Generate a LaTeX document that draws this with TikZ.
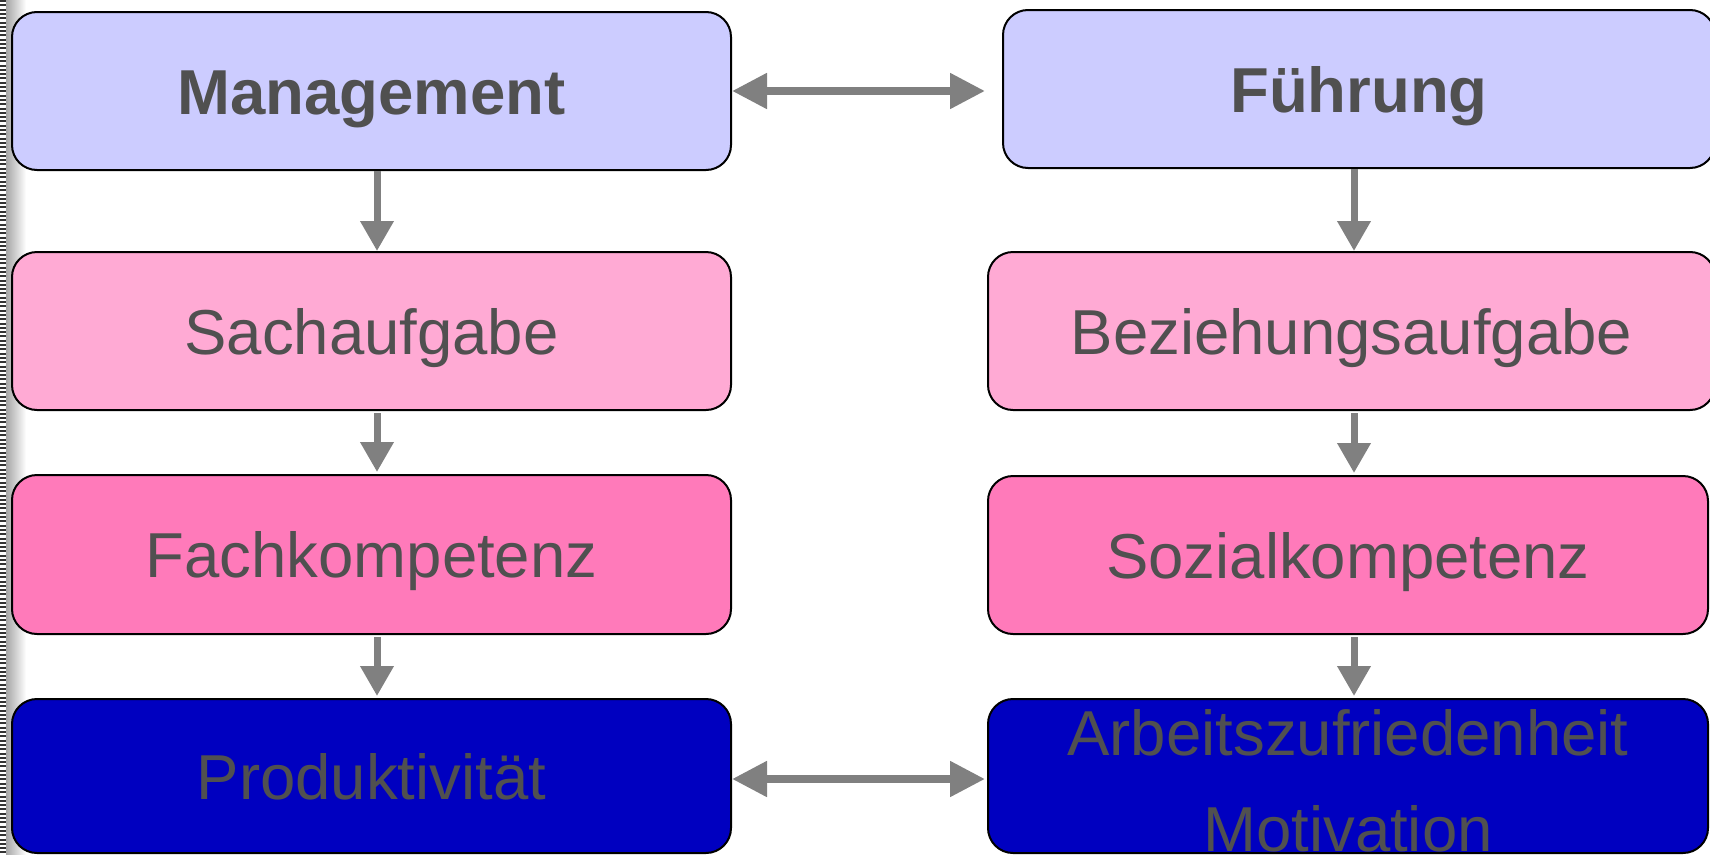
\documentclass[tikz,border=0pt]{standalone}
\usepackage{fontspec}
\setmainfont{Liberation Sans}
\usetikzlibrary{arrows.meta,calc}
\definecolor{boxA}{RGB}{204,204,255}
\definecolor{boxB}{RGB}{255,170,212}
\definecolor{boxC}{RGB}{255,122,186}
\definecolor{boxD}{RGB}{0,0,192}
\definecolor{txtgray}{RGB}{80,80,80}
\definecolor{arrgray}{RGB}{128,128,128}
\begin{document}
\begin{tikzpicture}[x=1pt,y=-1pt,
  box/.style={draw=black, line width=2pt, rounded corners=25pt, anchor=north west,
    inner sep=0pt, text=txtgray, font=\fontsize{63.5}{76}\selectfont,
    text height=46pt, text depth=0pt},
  conn/.style={draw=arrgray, line width=7pt, -{Triangle[length=30pt,width=32pt]}},
  dconn/.style={draw=arrgray, line width=8pt,
    {Triangle[length=35pt,width=34pt]}-{Triangle[length=35pt,width=34pt]}}]
\useasboundingbox (0,0) rectangle (1710,854);
% left binding strip
\shade[left color=black!35, right color=white] (6,0) rectangle (26,854);
\draw[black!80, line width=6pt, dash pattern=on 2pt off 2.3pt] (3,0) -- (3,854);
% boxes
\node[box, fill=boxA, minimum width=719pt, minimum height=158pt] (mgmt) at (11,11) {\bfseries Management};
\node[box, fill=boxA, minimum width=712pt, minimum height=158pt] (fuhr) at (1002,9) {\bfseries Führung};
\node[box, fill=boxB, minimum width=719pt, minimum height=158pt] (sach) at (11,251) {Sachaufgabe};
\node[box, fill=boxB, minimum width=727pt, minimum height=158pt] (bez) at (987,251) {Beziehungsaufgabe};
\node[box, fill=boxC, minimum width=719pt, minimum height=159pt] (fach) at (11,474) {Fachkompetenz};
\node[box, fill=boxC, minimum width=720pt, minimum height=158pt] (soz) at (987,475) {Sozialkompetenz};
\node[box, fill=boxD, minimum width=719pt, minimum height=154pt] (prod) at (11,698) {Produktivität};
\node[box, fill=boxD, minimum width=720pt, minimum height=154pt] (arb) at (987,698) {};
\node[inner sep=0pt, align=center, text=txtgray, font=\fontsize{63.5}{96}\selectfont]
  (arbtxt) at ($(arb.center)+(0,5)$) {Arbeitszufriedenheit\\Motivation};
% connectors
\coordinate (lx) at (377,0);
\coordinate (rx) at (1354,0);
\draw[dconn, shorten >=17pt] (mgmt.east) -- (mgmt.east -| fuhr.west);
\draw[dconn, shorten >=2pt] ($(prod.east)+(0,3)$) -- ($(prod.east -| arb.west)+(0,3)$);
\draw[conn] (mgmt.south -| lx) -- (sach.north -| lx);
\draw[conn, shorten <=2pt, shorten >=2pt] (sach.south -| lx) -- (fach.north -| lx);
\draw[conn, shorten <=2pt, shorten >=2pt] (fach.south -| lx) -- (prod.north -| lx);
\draw[conn] (fuhr.south -| rx) -- (bez.north -| rx);
\draw[conn, shorten <=2pt, shorten >=2pt] (bez.south -| rx) -- (soz.north -| rx);
\draw[conn, shorten <=2pt, shorten >=2pt] (soz.south -| rx) -- (arb.north -| rx);
\end{tikzpicture}
\end{document}
